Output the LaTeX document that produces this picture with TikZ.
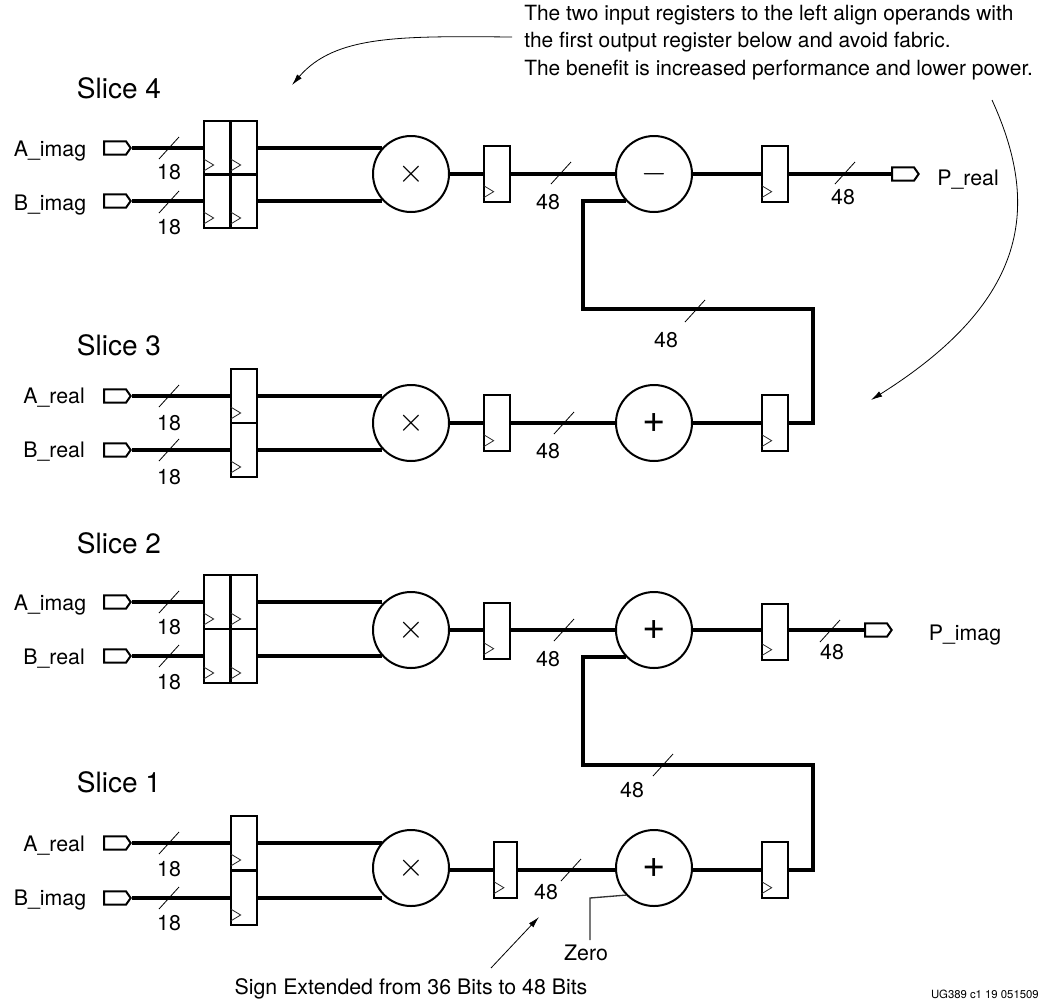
\documentclass[tikz,border=0pt]{standalone}
\usepackage{fontspec}
\setmainfont{TeX Gyre Heros}
\usetikzlibrary{shapes.symbols, arrows.meta}
\begin{document}
\begin{tikzpicture}[
        x=0.75pt, y=-0.75pt,
        reg/.style={rectangle, draw, line width=1.5pt, inner sep=0pt, minimum width=20pt, minimum height=41.5pt},
        regin/.style={reg, minimum height=40.5pt},
        op/.style={circle, draw, line width=1.5pt, inner sep=0pt, minimum size=57pt, font=\fontsize{30}{30}\selectfont},
        port/.style={signal, signal to=east, signal pointer angle=110, draw, line width=1.5pt, inner sep=0pt, minimum width=20pt, minimum height=10pt},
        wire/.style={line width=2.7pt},
        bus/.style={line width=2.9pt},
        tick/.style={line width=0.6pt},
        clk/.style={line width=0.6pt, black!85},
        note/.style={-{Latex[length=8.5pt,width=4.5pt]}, line width=0.6pt},
        txt/.style={inner sep=0pt, font=\fontsize{15.7}{20.5}\selectfont},
        lab/.style={inner sep=0pt, text height=11pt, text depth=0pt, font=\fontsize{16}{18}\selectfont},
        title/.style={inner sep=0pt, font=\fontsize{21}{24}\selectfont}
      ]
      \useasboundingbox (0,0) rectangle (1054,1001);

      % Annotation at the top
      \node[txt, anchor=north west, align=left] (benefit) at (524,5) {The two input registers to the left align operands with\\the first output register below and avoid fabric.\\The benefit is increased performance and lower power.};

      % Slice titles
      \node[title] (slice4) at (119,88) {Slice 4};
      \node[title] (slice3) at (119,345) {Slice 3};
      \node[title] (slice2) at (119,543) {Slice 2};
      \node[title] (slice1) at (119,782) {Slice 1};

      % Slice 4
      \node[lab] (na4) at (50,149) {A\_imag};
      \node[lab] (nb4) at (50,203) {B\_imag};
      \node[port] (pa4) at (115,148) {};
      \node[port] (pb4) at (115,201) {};
      \node[regin] (ra4) at (217,148) {};
      \node[regin] (rb4) at (217,201) {};
      \node[regin] (rc4) at (244,148) {};
      \node[regin] (rd4) at (244,201) {};
      \node[op] (mul4) at (411,174) {\fontsize{28}{28}\selectfont$\times$};
      \node[reg] (rm4) at (497,174) {};
      \node[op] (add4) at (654,174) {\fontsize{24}{24}\selectfont\raisebox{-2pt}{$-$}};
      \node[reg] (rp4) at (775,174) {};
      \node[port] (pout4) at (903,174) {};
      \node[lab] (nout4) at (968,178) {P\_real};

      % Slice 3
      \node[lab] (na3) at (54,396) {A\_real};
      \node[lab] (nb3) at (54,450) {B\_real};
      \node[port] (pa3) at (115,396) {};
      \node[port] (pb3) at (115,450) {};
      \node[regin] (rc3) at (244,396) {};
      \node[regin] (rd3) at (244,450) {};
      \node[op] (mul3) at (411,423) {\fontsize{28}{28}\selectfont$\times$};
      \node[reg] (rm3) at (497,423) {};
      \node[op] (add3) at (654,423) {+};
      \node[reg] (rp3) at (775,423) {};

      % Slice 2
      \node[lab] (na2) at (50,603) {A\_imag};
      \node[lab] (nb2) at (54,657) {B\_real};
      \node[port] (pa2) at (115,602) {};
      \node[port] (pb2) at (115,656) {};
      \node[regin] (ra2) at (217,602) {};
      \node[regin] (rb2) at (217,656) {};
      \node[regin] (rc2) at (244,602) {};
      \node[regin] (rd2) at (244,656) {};
      \node[op] (mul2) at (411,630) {\fontsize{28}{28}\selectfont$\times$};
      \node[reg] (rm2) at (497,631) {};
      \node[op] (add2) at (654,630) {+};
      \node[reg] (rp2) at (775,632) {};
      \node[port] (pout2) at (876,630) {};
      \node[lab] (nout2) at (965,633) {P\_imag};

      % Slice 1
      \node[lab] (na1) at (54,844) {A\_real};
      \node[lab] (nb1) at (50,898) {B\_imag};
      \node[port] (pa1) at (115,843) {};
      \node[port] (pb1) at (115,898) {};
      \node[regin] (rc1) at (244,843) {};
      \node[regin] (rd1) at (244,898) {};
      \node[op] (mul1) at (411,868) {\fontsize{28}{28}\selectfont$\times$};
      \node[reg, minimum width=17.5pt] (rm1) at (505.5,870) {};
      \node[op] (add1) at (654,868) {+};
      \node[reg] (rp1) at (775,870) {};
      \node[lab] (zero) at (586,953) {Zero};
      \coordinate (zeroup) at (590,940);
      \coordinate (zerobend) at (590,898);

      % Connect everything
      \draw[wire] (pa4) -- (pa4 -| ra4.west);
      \draw[wire] (pb4) -- (pb4 -| rb4.west);
      \draw[wire] (rc4.east) -- (rc4 -| mul4.137);
      \draw[wire] (rd4.east) -- (rd4 -| mul4.223);
      \draw[wire] (mul4) -- (rm4);
      \draw[wire] (rm4) -- (add4);
      \draw[wire] (add4) -- (rp4);
      \draw[wire] (rp4) -- (pout4);

      \draw[wire] (pa3) -- (pa3 -| rc3.west);
      \draw[wire] (pb3) -- (pb3 -| rd3.west);
      \draw[wire] (rc3.east) -- (rc3 -| mul3.137);
      \draw[wire] (rd3.east) -- (rd3 -| mul3.223);
      \draw[wire] (mul3) -- (rm3);
      \draw[wire] (rm3) -- (add3);
      \draw[wire] (add3) -- (rp3);

      \draw[wire] (pa2) -- (pa2 -| ra2.west);
      \draw[wire] (pb2) -- (pb2 -| rb2.west);
      \draw[wire] (rc2.east) -- (rc2 -| mul2.137);
      \draw[wire] (rd2.east) -- (rd2 -| mul2.223);
      \draw[wire] (mul2) -- (rm2.west |- mul2);
      \draw[wire] (rm2.east |- mul2) -- (add2);
      \draw[wire] (add2) -- (rp2.west |- add2);
      \draw[wire] (rp2.east |- add2) -- (pout2);

      \draw[wire] (pa1) -- (pa1 -| rc1.west);
      \draw[wire] (pb1) -- (pb1 -| rd1.west);
      \draw[wire] (rc1.east) -- (rc1 -| mul1.137);
      \draw[wire] (rd1.east) -- (rd1 -| mul1.223);
      \draw[wire] (mul1.east |- rm1) -- (rm1);
      \draw[wire] (rm1) -- (add1.west |- rm1);
      \draw[wire] (add1.east |- rp1) -- (rp1);

      % Feedback between slices
      \draw[bus] (add4.224) -- ++(-43,0) |- (585,309) -| (813,423) -- (rp3);
      \draw[bus] (add2.224) -- ++(-43,0) |- (585,765) -| (813,870) -- (rp1);
      \draw[line width=1pt, black!80] (add1.224) -- (zerobend) -- (zeroup);

      % Clock marks
      \foreach \r in {ra4,rb4,rc4,rd4,rm4,rp4,rc3,rd3,rm3,rp3,ra2,rb2,rc2,rd2,rm2,rp2,rc1,rd1,rm1,rp1}
        \draw[clk] (\r.south west) ++(1,-17) -- ++(10,6) -- ++(-10,6);

      % Bus widths
      \foreach \x/\y in {169/148,169/202,169/396,169/450,169/602,169/656,169/843,169/898,
                         561/173,845/173,695/311,564/423,564/630,830/631,663/765,571/870}
        \draw[tick] (\x,\y) ++(-10,11) -- ++(20,-22);
      \node[lab] (w1) at (169,172) {18};
      \node[lab] (w2) at (169,227) {18};
      \node[lab] (w3) at (169,423) {18};
      \node[lab] (w4) at (169,477) {18};
      \node[lab] (w5) at (169,627) {18};
      \node[lab] (w6) at (169,682) {18};
      \node[lab] (w7) at (169,869) {18};
      \node[lab] (w8) at (169,923) {18};
      \node[lab] (w9) at (548,202) {48};
      \node[lab] (w10) at (843,197) {48};
      \node[lab] (w11) at (666,340) {48};
      \node[lab] (w12) at (548,451) {48};
      \node[lab] (w13) at (548,659) {48};
      \node[lab] (w14) at (832,652) {48};
      \node[lab] (w15) at (632,790) {48};
      \node[lab] (w16) at (546,892) {48};

      % Notes and their arrows
      \coordinate (notea) at (512,37);
      \coordinate (noteb) at (292,85);
      \coordinate (notec) at (992,100);
      \coordinate (noted) at (871,400);
      \coordinate (notee) at (491,968);
      \coordinate (notef) at (539,917);
      \draw[note] (notea) .. controls (400,36) and (335,35) .. (noteb);
      \draw[note] (notec) .. controls (1040,205) and (1030,300) .. (noted);
      \draw[note] (notee) -- (notef);
      \node[lab] (sign) at (411,987) {Sign Extended from 36 Bits to 48 Bits};
      \node[inner sep=0pt, font=\fontsize{8.5}{10}\selectfont, anchor=east] (docid) at (1039,994) {UG389 c1 19 051509};
    \end{tikzpicture}
\end{document}
